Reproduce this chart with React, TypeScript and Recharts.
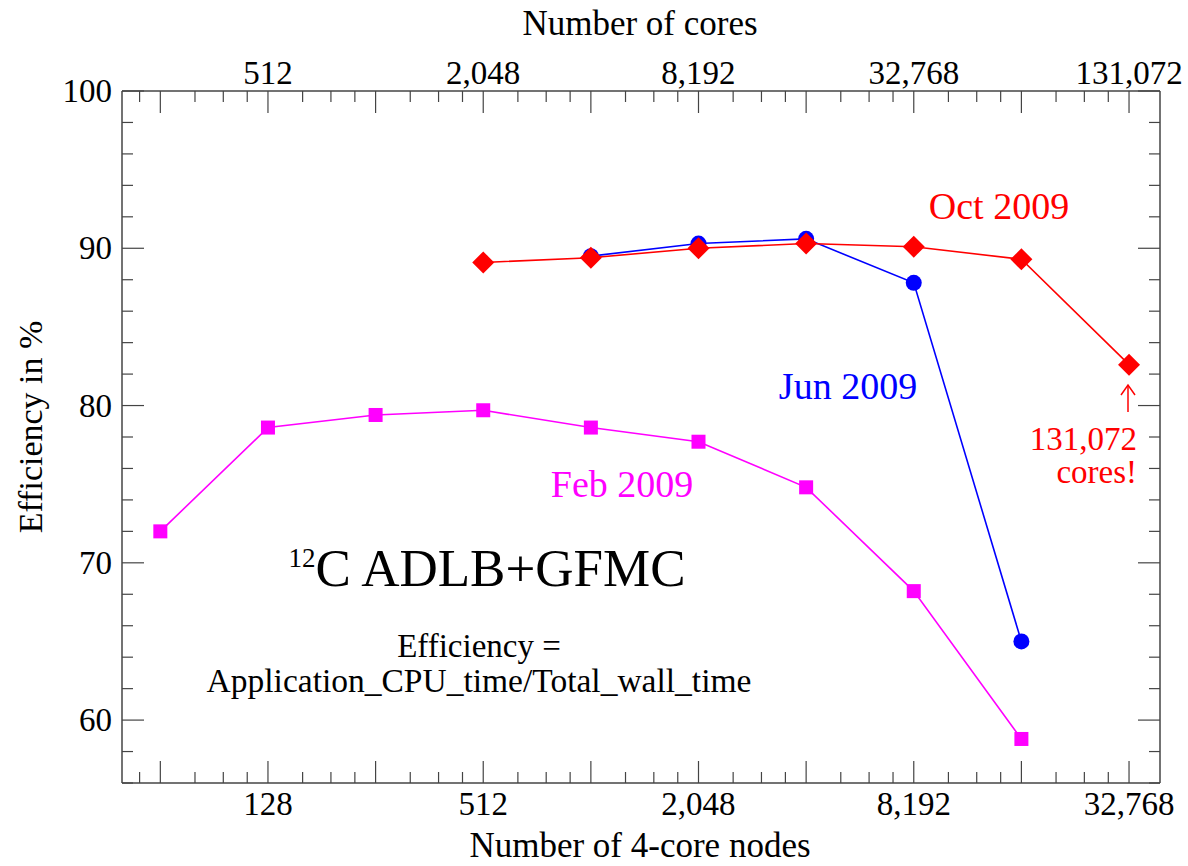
import React from 'react';
import { LineChart, Line, XAxis, YAxis, Customized } from 'recharts';

// Number of 4-core nodes used in each run
const febNodes = [64, 128, 256, 512, 1024, 2048, 4096, 8192, 16384];
const febEff = [72.0, 78.6, 79.4, 79.7, 78.6, 77.7, 74.8, 68.2, 58.8];

const junNodes = [1024, 2048, 4096, 8192, 16384];
const junEff = [89.5, 90.3, 90.6, 87.8, 65.0];

const octNodes = [512, 1024, 2048, 4096, 8192, 16384, 32768];
const octEff = [89.1, 89.4, 90.0, 90.3, 90.1, 89.3, 82.6];

// Labelled ticks (nodes on the bottom axis; cores = 4 x nodes on the top axis)
const labeledNodes = [128, 512, 2048, 8192, 32768];
const yLabels = [60, 70, 80, 90, 100];

const X_DOMAIN: [number, number] = [50, 40000];
const Y_DOMAIN: [number, number] = [56, 100];

// log2 axis: a long tick at every power of two, short ticks at quarter steps
const xTicks: number[] = [];
for (let p = 16; p <= 32768; p *= 2) {
  [1, 1.25, 1.5, 1.75].forEach((f) => {
    const v = p * f;
    if (v >= X_DOMAIN[0] && v <= X_DOMAIN[1]) xTicks.push(v);
  });
}
const yTicks: number[] = [];
for (let v = 56; v <= 100; v += 2) yTicks.push(v);

const SERIF = '"Liberation Serif", "Times New Roman", serif';
const AXIS = '#444';
const TICK_FONT = 33;

const isPow2 = (v: number) => Number.isInteger(Math.log2(v));
const fmt = (v: number) => v.toLocaleString('en-US');

const toRows = (xs: number[], ys: number[]) => xs.map((n, i) => ({ nodes: n, eff: ys[i] }));
const febData = toRows(febNodes, febEff);
const junData = toRows(junNodes, junEff);
const octData = toRows(octNodes, octEff);

const T = (p: any) => <text style={{ fontFamily: SERIF }} {...p} />;

const BottomTick = (props: any) => {
  const { x, y, payload } = props;
  const v = payload.value;
  const len = isPow2(v) ? 22 : 11;
  return (
    <g>
      <line x1={x} x2={x} y1={y} y2={y - len} stroke={AXIS} strokeWidth={1.2} />
      {labeledNodes.includes(v) && (
        <T x={x} y={y + 32} textAnchor="middle" fontSize={TICK_FONT} fill="#000">
          {fmt(v)}
        </T>
      )}
    </g>
  );
};

const TopTick = (props: any) => {
  const { x, y, payload } = props;
  const v = payload.value;
  const len = isPow2(v) ? 22 : 11;
  return (
    <g>
      <line x1={x} x2={x} y1={y} y2={y + len} stroke={AXIS} strokeWidth={1.2} />
      {labeledNodes.includes(v) && (
        <T x={x} y={y - 7} textAnchor="middle" fontSize={TICK_FONT} fill="#000">
          {fmt(v * 4)}
        </T>
      )}
    </g>
  );
};

const LeftTick = (props: any) => {
  const { x, y, payload } = props;
  const v = payload.value;
  const major = v % 10 === 0;
  return (
    <g>
      <line x1={x} x2={x + (major ? 22 : 11)} y1={y} y2={y} stroke={AXIS} strokeWidth={1.2} />
      {yLabels.includes(v) && (
        <T x={x - 10} y={y + 11} textAnchor="end" fontSize={TICK_FONT} fill="#000">
          {v}
        </T>
      )}
    </g>
  );
};

const RightTick = (props: any) => {
  const { x, y, payload } = props;
  const major = payload.value % 10 === 0;
  return <line x1={x} x2={x - (major ? 22 : 11)} y1={y} y2={y} stroke={AXIS} strokeWidth={1.2} />;
};

const Square = (props: any) => {
  const { cx, cy } = props;
  if (cx == null || cy == null) return <g />;
  return <rect x={cx - 7} y={cy - 7} width={14} height={14} fill="#ff00ff" />;
};

const Circle = (props: any) => {
  const { cx, cy } = props;
  if (cx == null || cy == null) return <g />;
  return <circle cx={cx} cy={cy} r={8} fill="#0000ff" />;
};

const Diamond = (props: any) => {
  const { cx, cy } = props;
  if (cx == null || cy == null) return <g />;
  const r = 11;
  return <path d={`M${cx},${cy - r} L${cx + r},${cy} L${cx},${cy + r} L${cx - r},${cy} Z`} fill="#ff0000" />;
};

const Annotations = () => (
  <g>
    <T x={640} y={35} textAnchor="middle" fontSize={35} fill="#000">Number of cores</T>
    <T x={640} y={857} textAnchor="middle" fontSize={35} fill="#000">Number of 4-core nodes</T>
    <T x={0} y={0} transform="translate(42,427) rotate(-90)" textAnchor="middle" fontSize={34} fill="#000">
      Efficiency in %
    </T>

    <T x={999} y={219} textAnchor="middle" fontSize={38} fill="#ff0000">Oct 2009</T>
    <T x={848} y={399} textAnchor="middle" fontSize={38} fill="#0000ff">Jun 2009</T>
    <T x={622} y={497} textAnchor="middle" fontSize={38} fill="#ff00ff">Feb 2009</T>

    <T x={487} y={586} textAnchor="middle" fill="#000">
      <tspan fontSize={27} dy={-19}>12</tspan>
      <tspan fontSize={53} dy={19}>C ADLB+GFMC</tspan>
    </T>
    <T x={479} y={657} textAnchor="middle" fontSize={33} fill="#000">Efficiency =</T>
    <T x={479} y={692} textAnchor="middle" fontSize={33.5} fill="#000">Application_CPU_time/Total_wall_time</T>

    <line x1={1128} x2={1128} y1={412} y2={386} stroke="#ff0000" strokeWidth={1.5} />
    <path d="M1121,395 L1128,385 L1135,395" fill="none" stroke="#ff0000" strokeWidth={1.5} />
    <T x={1137} y={450} textAnchor="end" fontSize={33} fill="#ff0000">131,072</T>
    <T x={1137} y={483} textAnchor="end" fontSize={33} fill="#ff0000">cores!</T>
  </g>
);

export default function App() {
  return (
    <div style={{ position: 'absolute', left: 0, top: 0, width: 1188, height: 866, background: '#fff' }}>
      <LineChart width={1188} height={866} margin={{ top: 51, right: 18, bottom: 43, left: 62 }}>
        <XAxis
          dataKey="nodes"
          type="number"
          scale="log"
          domain={X_DOMAIN}
          allowDataOverflow
          ticks={xTicks}
          interval={0}
          tickSize={0}
          tickMargin={0}
          tick={<BottomTick />}
          axisLine={{ stroke: AXIS, strokeWidth: 1.5 }}
          height={40}
        />
        <XAxis
          xAxisId="top"
          orientation="top"
          dataKey="nodes"
          type="number"
          scale="log"
          domain={X_DOMAIN}
          allowDataOverflow
          ticks={xTicks}
          interval={0}
          tickSize={0}
          tickMargin={0}
          tick={<TopTick />}
          axisLine={{ stroke: AXIS, strokeWidth: 1.5 }}
          height={40}
        />
        <YAxis
          type="number"
          domain={Y_DOMAIN}
          allowDataOverflow
          ticks={yTicks}
          interval={0}
          tickSize={0}
          tickMargin={0}
          tick={<LeftTick />}
          axisLine={{ stroke: AXIS, strokeWidth: 1.5 }}
          width={60}
        />
        <YAxis
          yAxisId="right"
          orientation="right"
          type="number"
          domain={Y_DOMAIN}
          allowDataOverflow
          ticks={yTicks}
          interval={0}
          tickSize={0}
          tickMargin={0}
          tick={<RightTick />}
          axisLine={{ stroke: AXIS, strokeWidth: 1.5 }}
          width={10}
        />
        <Line
          data={febData}
          dataKey="eff"
          stroke="#ff00ff"
          strokeWidth={1.6}
          dot={<Square />}
          activeDot={false}
          isAnimationActive={false}
        />
        <Line
          data={junData}
          dataKey="eff"
          stroke="#0000ff"
          strokeWidth={1.6}
          dot={<Circle />}
          activeDot={false}
          isAnimationActive={false}
        />
        <Line
          data={octData}
          dataKey="eff"
          stroke="#ff0000"
          strokeWidth={1.6}
          dot={<Diamond />}
          activeDot={false}
          isAnimationActive={false}
        />
        <Customized component={Annotations} />
      </LineChart>
    </div>
  );
}
